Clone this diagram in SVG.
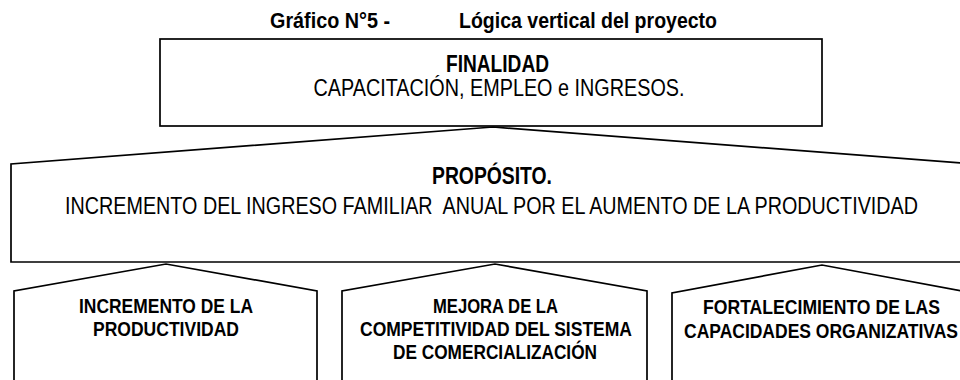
<svg xmlns="http://www.w3.org/2000/svg" width="960" height="380" viewBox="0 0 960 380">
  <style>
    .shape { fill: #ffffff; stroke: #000000; stroke-width: 1.7; stroke-linejoin: miter; }
    .t { font-family: "Liberation Sans Narrow", "Liberation Sans", Arial, sans-serif; fill: #000000; }
    .b { font-weight: bold; }
    .title { font-size: 22px; }
    .big { font-size: 23.5px; }
    .small { font-size: 21px; }
  </style>
  <rect width="960" height="380" fill="#ffffff"/>
  <g id="title">
    <text class="t b title" x="270" y="28" textLength="120" lengthAdjust="spacingAndGlyphs">Gráfico N°5 -</text>
    <text class="t b title" x="459" y="28" textLength="258" lengthAdjust="spacingAndGlyphs">Lógica vertical del proyecto</text>
  </g>
  <g id="connectors"></g>
  <g id="node-finalidad">
    <rect class="shape" x="160" y="39" width="662" height="87"/>
    <text class="t b big" x="446" y="72" textLength="103" lengthAdjust="spacingAndGlyphs">FINALIDAD</text>
    <text class="t big" x="313.5" y="96" textLength="371" lengthAdjust="spacingAndGlyphs">CAPACITACIÓN, EMPLEO e INGRESOS.</text>
  </g>
  <g id="node-proposito">
    <path class="shape" d="M11,262 L11,164 L493,127 L961,162.9 L961,262 Z"/>
    <text class="t b big" x="432" y="184" textLength="120" lengthAdjust="spacingAndGlyphs">PROPÓSITO.</text>
    <text class="t big" x="65" y="214" textLength="853" lengthAdjust="spacingAndGlyphs" xml:space="preserve">INCREMENTO DEL INGRESO FAMILIAR  ANUAL POR EL AUMENTO DE LA PRODUCTIVIDAD</text>
  </g>
  <g id="node-componente-1">
    <path class="shape" d="M14,392 L14,291 L166,264 L317,291 L317,392"/>
    <text class="t b small" x="79" y="313" textLength="174" lengthAdjust="spacingAndGlyphs">INCREMENTO DE LA</text>
    <text class="t b small" x="93" y="336" textLength="146" lengthAdjust="spacingAndGlyphs">PRODUCTIVIDAD</text>
  </g>
  <g id="node-componente-2">
    <path class="shape" d="M342,392 L342,291 L495,264 L647,291 L647,392"/>
    <text class="t b small" x="433" y="313" textLength="125" lengthAdjust="spacingAndGlyphs">MEJORA DE LA</text>
    <text class="t b small" x="360" y="336" textLength="272" lengthAdjust="spacingAndGlyphs">COMPETITIVIDAD DEL SISTEMA</text>
    <text class="t b small" x="393" y="359" textLength="204" lengthAdjust="spacingAndGlyphs">DE COMERCIALIZACIÓN</text>
  </g>
  <g id="node-componente-3">
    <path class="shape" d="M672,392 L672,293 L822,265 L961,290.9 L961,392"/>
    <text class="t b small" x="703" y="314" textLength="237" lengthAdjust="spacingAndGlyphs">FORTALECIMIENTO DE LAS</text>
    <text class="t b small" x="684" y="338" textLength="274" lengthAdjust="spacingAndGlyphs">CAPACIDADES ORGANIZATIVAS</text>
  </g>
</svg>
